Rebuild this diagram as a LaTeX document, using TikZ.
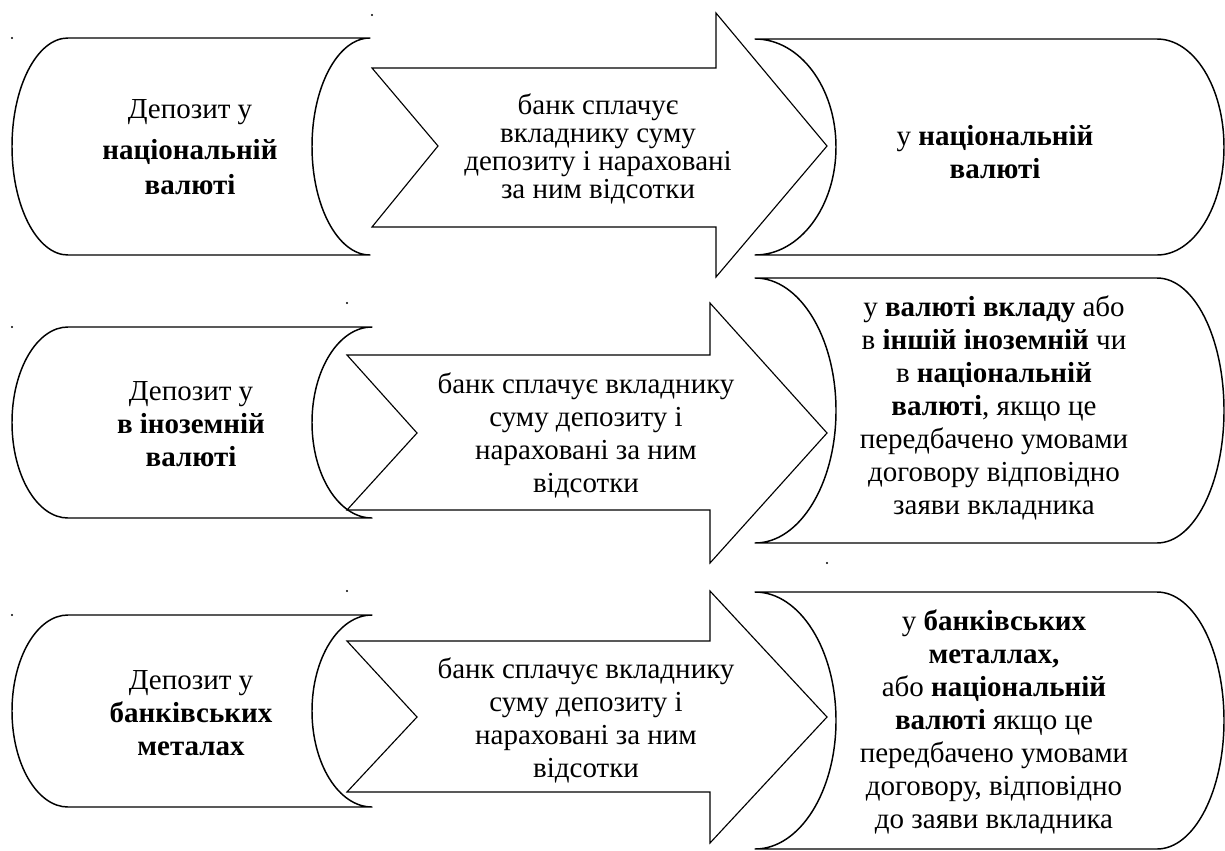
\documentclass[tikz,border=0pt]{standalone}
\usepackage{fontspec}
\setmainfont{Liberation Serif}
\begin{document}
\begin{tikzpicture}[x=0.75pt,y=-0.75pt,
  outline/.style={draw=black,line width=1.1pt,line join=round},
  arrowline/.style={draw=black,line width=0.85pt,line join=miter},
  label/.style={align=center,inner sep=0pt,font=\fontsize{21.75}{24.75}\selectfont},
  tightlabel/.style={align=center,inner sep=0pt,font=\fontsize{21.75}{21}\selectfont},
  speck/.style={fill=black}]
\useasboundingbox[fill=white] (0,0) rectangle (1225,850);

% left vessel: #1 leftmost x, #2 start of straight edge, #3 right end,
% #4 deepest point of the concave right side, #5 top, #6 bottom
\newcommand\leftvessel[6]{%
  \path[outline] (#2,#5) -- (#3,#5)
    .. controls ({#3-0.5523*(#3-#4)},#5) and (#4,{(#5+#6)/2-0.5523*(#6-#5)/2}) .. (#4,{(#5+#6)/2})
    .. controls (#4,{(#5+#6)/2+0.5523*(#6-#5)/2}) and ({#3-0.5523*(#3-#4)},#6) .. (#3,#6)
    -- (#2,#6)
    .. controls ({#2-0.5523*(#2-#1)},#6) and (#1,{(#5+#6)/2+0.5523*(#6-#5)/2}) .. (#1,{(#5+#6)/2})
    .. controls (#1,{(#5+#6)/2-0.5523*(#6-#5)/2}) and ({#2-0.5523*(#2-#1)},#5) .. cycle;}

% right vessel: #1 left end, #2 deepest point of the concave left side,
% #3 start of the right arc, #4 rightmost x, #5 top, #6 bottom
\newcommand\rightvessel[6]{%
  \path[outline] (#1,#5) -- (#3,#5)
    .. controls ({#3+0.5523*(#4-#3)},#5) and (#4,{(#5+#6)/2-0.5523*(#6-#5)/2}) .. (#4,{(#5+#6)/2})
    .. controls (#4,{(#5+#6)/2+0.5523*(#6-#5)/2}) and ({#3+0.5523*(#4-#3)},#6) .. (#3,#6)
    -- (#1,#6)
    .. controls ({#1+0.5523*(#2-#1)},#6) and (#2,{(#5+#6)/2+0.5523*(#6-#5)/2}) .. (#2,{(#5+#6)/2})
    .. controls (#2,{(#5+#6)/2-0.5523*(#6-#5)/2}) and ({#1+0.5523*(#2-#1)},#5) .. cycle;}

% notched block arrow: #1 tail x, #2 notch x, #3 head base x, #4 tip x,
% #5 body top, #6 body bottom, #7 head top, #8 head bottom, #9 middle y
\newcommand\blockarrow[9]{%
  \path[arrowline] (#1,#5) -- (#3,#5) -- (#3,#7) -- (#4,#9) -- (#3,#8)
    -- (#3,#6) -- (#1,#6) -- (#2,#9) -- cycle;}

% row 1: national currency
\leftvessel{12}{68}{370}{312}{38}{255}
\blockarrow{372}{438}{716}{827}{68}{227}{13}{277}{146}
\rightvessel{755}{836}{1157}{1224}{39}{255}

% row 2: foreign currency
\leftvessel{12}{68}{372}{312}{327}{518}
\blockarrow{347}{417}{710}{827}{355}{510}{303}{563}{433}
\rightvessel{755}{836}{1157}{1224}{278}{543}

% row 3: bank metals
\leftvessel{12}{68}{372}{312}{615}{807}
\blockarrow{347}{417}{710}{827}{641}{792}{591}{843}{717}
\rightvessel{755}{836}{1157}{1224}{592}{849}

% small stray marks
\fill[speck] (12,38) circle (1.2);
\fill[speck] (372,15) circle (1.2);
\fill[speck] (12,327) circle (1.2);
\fill[speck] (347,303) circle (1.2);
\fill[speck] (12,615) circle (1.2);
\fill[speck] (347,591) circle (1.2);
\fill[speck] (827,563) circle (1.2);

% texts
\node[label] (dep1) at (190,147) {Депозит у\\[6pt]\textbf{національній}\\[2pt]\textbf{валюті}};
\node[tightlabel] (pay1) at (598,149) {банк сплачує\\вкладнику суму\\депозиту і нараховані\\за ним відсотки};
\node[label] (res1) at (995,152) {у \textbf{національній}\\\textbf{валюті}};

\node[label] (dep2) at (191,424) {Депозит у\\\textbf{в іноземній}\\\textbf{валюті}};
\node[label] (pay2) at (586,435) {банк сплачує вкладнику\\суму депозиту і\\нараховані за ним\\відсотки};
\node[label] (res2) at (994,408) {у \textbf{валюті вкладу} або\\в \textbf{іншій іноземній} чи\\в \textbf{національній}\\\textbf{валюті}, якщо це\\передбачено умовами\\договору відповідно\\заяви вкладника};

\node[label] (dep3) at (191,713) {Депозит у\\\textbf{банківських}\\\textbf{металах}};
\node[label] (pay3) at (586,720) {банк сплачує вкладнику\\суму депозиту і\\нараховані за ним\\відсотки};
\node[label] (res3) at (994,722) {у \textbf{банківських}\\\textbf{металлах,}\\або \textbf{національній}\\\textbf{валюті} якщо це\\передбачено умовами\\договору, відповідно\\до заяви вкладника};
\end{tikzpicture}
\end{document}
